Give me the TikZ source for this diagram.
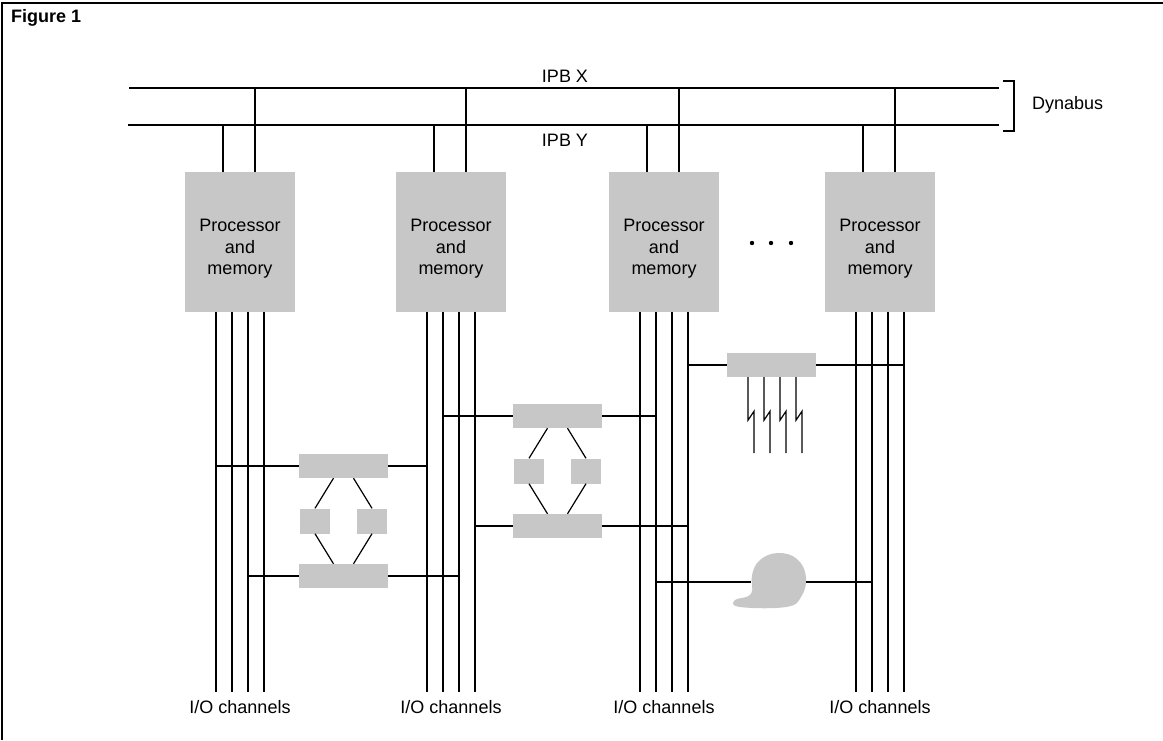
\documentclass[tikz,border=0pt]{standalone}
\usepackage{fontspec}
\setmainfont{Liberation Sans}

\tikzset{
  halftone/.style={fill=black!22, draw=none},
  lbl/.style={font=\fontsize{18}{21.5}\selectfont, inner sep=0pt},
  pmbox/.style={halftone, minimum width=110pt, minimum height=140pt, inner sep=0pt,
    label={[lbl, align=center, yshift=-7pt]center:Processor\\and\\memory}},
  bar/.style={halftone, minimum width=89pt, minimum height=24pt, inner sep=0pt},
  stub/.style={halftone, minimum width=30pt, minimum height=25pt, inner sep=0pt},
  wire/.style={line width=1.2pt},
  title/.style={font=\bfseries\fontsize{18}{21.5}\selectfont, inner sep=0pt}
}

\begin{document}
\begin{tikzpicture}[x=1pt, y=-1pt]
    \useasboundingbox (0,0) rectangle (1163,740);
    % frame
    \draw[line width=1.8pt] (2,740) -- (2,3) -- (1163,3);
    \node[title, anchor=west] (fig) at (11,18) {Figure 1};

    % dynabus
    \coordinate (xa) at (129,88);  \coordinate (xb) at (999,88);
    \coordinate (ya) at (128,125); \coordinate (yb) at (999,125);
    \draw[wire] (xa) -- (xb);
    \draw[wire] (ya) -- (yb);
    \node[lbl] (ipbx) at (565,76) {IPB X};
    \node[lbl] (ipby) at (565,140) {IPB Y};
    \draw[wire] (1003,81) -- (1014,81) -- (1014,131) -- (1003,131);
    \node[lbl, anchor=west] (dynabus) at (1032,105) {Dynabus};

    % processors, bus taps, channels
    \foreach \i/\x in {1/240,2/451,3/664,4/880} {
        \node[pmbox] (pm\i) at (\x,242) {};
        \draw[wire] ([xshift=-17pt]pm\i.north) -- ([xshift=-17pt]pm\i.north |- ya);
        \draw[wire] ([xshift=15pt]pm\i.north) -- ([xshift=15pt]pm\i.north |- xa);
        \foreach \k/\o in {1/-24,2/-8,3/8,4/24} {
            \coordinate (ch\i\k) at ([xshift=\o pt]pm\i.south);
            \draw[wire] (ch\i\k) -- ++(0,380);
        }
        \node[lbl] (io\i) at (\x,707) {I/O channels};
    }
    \foreach \d in {752,771,791}
        \fill (\d,243) circle (2.2);

    % dual-ported controllers
    \foreach \u/\x/\y/\p/\q/\t/\b in {sa/343.5/466/1/2/1/3, sb/557.5/416/2/3/2/4} {
        \node[bar] (\u1) at (\x,\y) {};
        \node[stub] (\u2) at (\x-28.5,\y+55) {};
        \node[stub] (\u3) at (\x+28.5,\y+55) {};
        \node[bar] (\u4) at (\x,\y+110) {};
        \draw[wire] (ch\p\t |- \u1.west) -- (\u1.west);
        \draw[wire] (\u1.east) -- (ch\q\t |- \u1.east);
        \draw[wire] (ch\p\b |- \u4.west) -- (\u4.west);
        \draw[wire] (\u4.east) -- (ch\q\b |- \u4.east);
        \draw[wire] ([xshift=-10pt]\u1.south) -- (\u2.north);
        \draw[wire] ([xshift=10pt]\u1.south) -- (\u3.north);
        \draw[wire] (\u2.south) -- ([xshift=-10pt]\u4.north);
        \draw[wire] (\u3.south) -- ([xshift=10pt]\u4.north);
    }

    % communication lines
    \node[bar] (lu) at (771.5,365) {};
    \draw[wire] (ch34 |- lu.west) -- (lu.west);
    \draw[wire] (lu.east) -- (ch44 |- lu.east);
    \foreach \o in {-23.5,-7.5,8.5,24.5}
        \draw[wire] ([xshift=\o pt]lu.south) -- ++(0,43) -- ++(6,-9) -- ++(0,42);

    % disc
    \fill[halftone] plot[smooth cycle, tension=0.7] coordinates
        {(752,575) (760,560) (778,553) (797,559) (806,577) (801,597)
         (786,607) (740,607) (735,600) (751,594)};
    \coordinate (dkw) at (751,582);
    \coordinate (dke) at (806,582);
    \draw[wire] (ch32 |- dkw) -- (dkw);
    \draw[wire] (dke) -- (ch42 |- dke);
\end{tikzpicture}
\end{document}
